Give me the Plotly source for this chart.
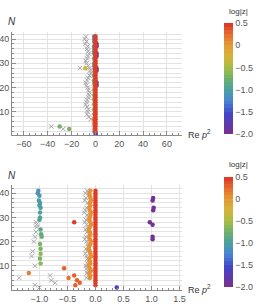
import plotly.graph_objects as go

# ---------------- data ----------------
# red column (Re p^2 ~ 0)
red_N = list(range(2, 42))
red_re = [0.0] * len(red_N)
red_logz = [0.45] * len(red_N)

# orange column near -0.1
orange_N = list(range(5, 42))
orange_re = [-0.10, -0.09, -0.11, -0.08, -0.10, -0.12, -0.09, -0.10, -0.11, -0.08,
             -0.09, -0.10, -0.12, -0.11, -0.09, -0.08, -0.10, -0.11, -0.09, -0.10,
             -0.12, -0.10, -0.08, -0.09, -0.11, -0.10, -0.09, -0.08, -0.10, -0.11,
             -0.09, -0.10, -0.08, -0.09, -0.10, -0.11, -0.09]
orange_logz = [0.05] * len(orange_N)

# teal / green column near -1
col1_N = [41, 40, 39, 37, 36, 35, 34, 32, 30, 29, 25, 23, 22, 19, 17, 15, 13, 11]
col1_re = [-1.02, -1.03, -1.00, -1.01, -0.99, -1.00, -0.98, -0.99, -0.99, -1.00,
           -0.98, -0.97, -0.96, -0.99, -0.98, -0.98, -0.99, -0.98]
col1_logz = [-1.1, -1.1, -1.08, -1.08, -1.05, -1.05, -1.02, -1.0, -0.98, -0.95,
             -0.88, -0.85, -0.8, -0.75, -0.7, -0.6, -0.72, -0.6]

# scattered coloured points
scat_re = [-1.19, -0.56, -0.48, -0.38, -0.33, -0.28, -0.36, -0.38, 0.38,
           1.03, 1.02, 1.04, 1.03, 0.97, 1.02, 1.02, 1.02,
           -30.0, -22.0, -8.5]
scat_N = [7, 9, 5, 6, 4, 3, 2, 28, 1,
          38, 37, 34, 33, 28, 27, 22, 21,
          4, 3, 28]
scat_logz = [0.1, 0.3, 0.2, 0.25, 0.3, 0.3, 0.3, 0.45, -1.6,
             -2.0, -2.0, -2.0, -2.0, -2.0, -2.0, -2.0, -2.0,
             -0.75, -0.75, -0.3]

# grey crosses
cross_re = [-0.15, -0.18, -0.13, -0.17, -0.19, -0.14, -0.12, -0.16, -0.18, -0.20,
            -0.15, -0.13, -0.17, -0.19, -0.16, -0.14, -0.18, -0.15, -0.12, -0.17,
            -0.19, -0.16, -0.14, -0.13, -0.17, -0.15, -0.18, -0.16, -0.14, -0.13,
            -0.15, -0.17, -0.16, -0.14, -0.15, -0.13, -0.16,
            -1.06, -1.05, -1.06, -1.08, -1.05, -1.10, -1.12, -1.14, -1.08,
            -1.36, -0.81, -0.79, -0.72, -1.08, -1.00,
            -8.0, -9.0, -7.5, -8.5, -6.5, -7.0, -6.0, -5.5, -6.5, -7.0,
            -8.0, -7.5, -6.0, -5.0, -4.5, -4.0, -5.0, -6.0, -7.0, -8.0,
            -7.5, -6.5, -6.0, -5.0, -5.5, -6.0, -7.0, -7.5, -8.0, -7.0,
            -6.0, -6.5, -7.0, -5.5, -4.0,
            -13.0, -37.0, -27.0]
cross_N = [41, 40, 39, 38, 37, 36, 35, 34, 33, 32,
           31, 30, 29, 28, 27, 26, 25, 24, 23, 22,
           21, 20, 19, 18, 17, 16, 15, 14, 13, 12,
           11, 10, 9, 8, 7, 6, 5,
           28, 26, 24, 22, 27, 20, 16, 14, 10,
           5, 6, 4, 3, 2, 1,
           41, 40, 39, 38, 37, 36, 35, 34, 33, 32,
           31, 30, 29, 28, 27, 26, 25, 24, 23, 22,
           21, 20, 19, 18, 17, 16, 15, 14, 13, 12,
           11, 10, 9, 8, 7,
           28, 4, 3]

cbar_vals = [0.5, 0, -0.5, -1.0, -1.5, -2.0]
cbar_text = ["0.5", "0", "\u22120.5", "\u22121.0", "\u22121.5", "\u22122.0"]

# ---------------- style ----------------
W, H = 260, 307
anchors = [(0.00, (122, 47, 143)), (0.10, (92, 60, 176)), (0.18, (66, 70, 200)),
           (0.30, (74, 134, 211)), (0.40, (74, 160, 160)), (0.50, (111, 178, 106)),
           (0.60, (168, 188, 68)), (0.70, (212, 180, 58)), (0.80, (228, 154, 53)),
           (0.90, (230, 106, 47)), (1.00, (220, 51, 40))]


def interp(t):
    for (p0, c0), (p1, c1) in zip(anchors[:-1], anchors[1:]):
        if p0 <= t <= p1:
            f = (t - p0) / (p1 - p0)
            return "rgb(%d,%d,%d)" % tuple(round(a + (b - a) * f) for a, b in zip(c0, c1))
    return "rgb(%d,%d,%d)" % anchors[-1][1]


nsteps = 30
cscale = []
for i in range(nsteps):
    c = interp((i + 0.5) / nsteps)
    cscale.append([i / nsteps, c])
    cscale.append([(i + 1) / nsteps, c])

FONT = "Liberation Sans"
GRID = "#e3e3e3"
AX = "#8a8a8a"
TXT = "#555555"
CROSS = "#a8a8a8"

fig = go.Figure()

panels = [("x", "y", "coloraxis"), ("x2", "y2", "coloraxis2")]
for xa, ya, ca in panels:
    fig.add_trace(go.Scatter(x=cross_re, y=cross_N, mode="markers", xaxis=xa, yaxis=ya,
                             marker=dict(symbol="x-thin-open", size=4.5, color=CROSS,
                                         line=dict(width=1, color=CROSS)),
                             showlegend=False, hoverinfo="skip"))
    for xs, ys, zs in [(orange_re, orange_N, orange_logz), (col1_re, col1_N, col1_logz),
                       (scat_re, scat_N, scat_logz), (red_re, red_N, red_logz)]:
        fig.add_trace(go.Scatter(x=xs, y=ys, mode="markers", xaxis=xa, yaxis=ya,
                                 marker=dict(size=4.5, color=zs, coloraxis=ca,
                                             line=dict(width=0)),
                                 showlegend=False, hoverinfo="skip"))

xdom = [12 / W, 182 / W]
top_dom = [1 - 135 / H, 1 - 32 / H]
bot_dom = [1 - 290 / H, 1 - 185 / H]

common_axis = dict(showline=True, linecolor=AX, linewidth=1, ticks="inside", ticklen=4,
                   tickcolor=AX, tickfont=dict(family=FONT, size=9, color=TXT),
                   showgrid=True, gridcolor=GRID, gridwidth=1, zeroline=False,
                   automargin=False)


def cbar(ycenter_px, len_px):
    return dict(x=224 / W, xanchor="left", xpad=0, ypad=0,
                y=1 - ycenter_px / H, yanchor="middle", len=len_px, lenmode="pixels",
                thickness=9, thicknessmode="pixels", outlinewidth=0,
                tickvals=cbar_vals, ticktext=cbar_text, ticks="",
                tickfont=dict(family=FONT, size=9, color=TXT))


fig.update_layout(
    width=W, height=H, margin=dict(l=0, r=0, t=0, b=0, pad=0, autoexpand=False),
    paper_bgcolor="white", plot_bgcolor="white",
    xaxis=dict(domain=xdom, anchor="y", range=[-70, 72.7], tick0=0, dtick=20,
               minor=dict(dtick=5, tick0=0, ticks="inside", ticklen=2, tickcolor=AX,
                          showgrid=False), **common_axis),
    yaxis=dict(domain=top_dom, anchor="x", range=[0.5, 42.9], tickvals=[10, 20, 30, 40],
               minor=dict(dtick=2, tick0=0, ticks="inside", ticklen=2, tickcolor=AX,
                          showgrid=True, gridcolor=GRID), **common_axis),
    xaxis2=dict(domain=xdom, anchor="y2", range=[-1.49, 1.545], tick0=0, dtick=0.5,
                tickformat=".1f",
                minor=dict(dtick=0.1, tick0=0, ticks="inside", ticklen=2, tickcolor=AX,
                           showgrid=False), **common_axis),
    yaxis2=dict(domain=bot_dom, anchor="x2", range=[0, 43.4], tickvals=[10, 20, 30, 40],
                minor=dict(dtick=2, tick0=0, ticks="inside", ticklen=2, tickcolor=AX,
                           showgrid=True, gridcolor=GRID), **common_axis),
    coloraxis=dict(colorscale=cscale, cmin=-2, cmax=0.5, colorbar=cbar(78.5, 111)),
    coloraxis2=dict(colorscale=cscale, cmin=-2, cmax=0.5, colorbar=cbar(232, 110)),
)

ann = []
for ytop, yaxis_px, nlab in [(11, 134, 21), (164, 289, 175)]:
    ann.append(dict(x=238 / W, y=1 - ytop / H, xref="paper", yref="paper", text="log|z|",
                    showarrow=False, xanchor="center", yanchor="middle",
                    font=dict(family=FONT, size=8, color="#333333")))
    ann.append(dict(x=186 / W, y=1 - yaxis_px / H, xref="paper", yref="paper",
                    text="Re <i>p</i><sup>2</sup>", showarrow=False, xanchor="left",
                    yanchor="middle", font=dict(family=FONT, size=9, color="#333333")))
    ann.append(dict(x=12 / W, y=1 - nlab / H, xref="paper", yref="paper", text="<i>N</i>",
                    showarrow=False, xanchor="center", yanchor="middle",
                    font=dict(family=FONT, size=10, color="#333333")))
fig.update_layout(annotations=ann)

fig.write_html("out.html", config={"displayModeBar": False},
               post_script="document.body.style.margin='0';document.body.style.overflow='hidden';")
